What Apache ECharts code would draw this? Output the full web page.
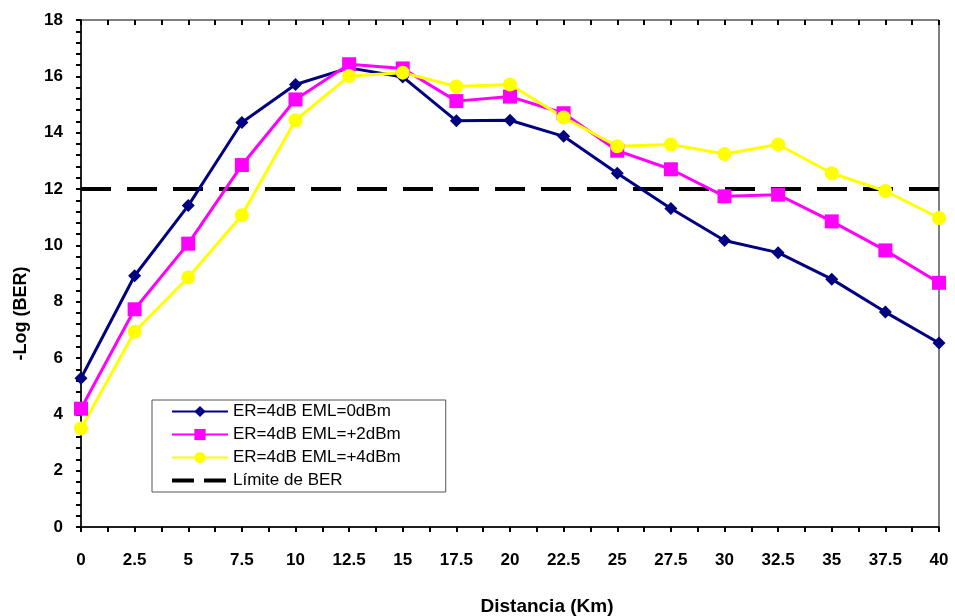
<!DOCTYPE html>
<html>
<head>
<meta charset="utf-8">
<script src="https://cdn.jsdelivr.net/npm/echarts@6/dist/echarts.min.js"></script>
<style>
  html, body { margin: 0; padding: 0; background: #fff; }
  #app { width: 955px; height: 616px; }
</style>
</head>
<body>
<div id="app"></div>
<script>
// distances (Km) and -log(BER)
const distances = [0, 2.5, 5, 7.5, 10, 12.5, 15, 17.5, 20, 22.5, 25, 27.5, 30, 32.5, 35, 37.5, 40];
const eml0 = [5.28, 8.92, 11.41, 14.36, 15.71, 16.3, 15.98, 14.42, 14.44, 13.87, 12.56, 11.31, 10.17, 9.74, 8.8, 7.63, 6.53];
const eml2 = [4.2, 7.73, 10.06, 12.85, 15.18, 16.43, 16.28, 15.12, 15.28, 14.69, 13.36, 12.7, 11.74, 11.8, 10.85, 9.82, 8.67];
const eml4 = [3.5, 6.93, 8.86, 11.07, 14.44, 16.01, 16.13, 15.64, 15.71, 14.54, 13.52, 13.58, 13.24, 13.58, 12.56, 11.93, 10.97];
const berLimit = 12;

const seriesNames = ["ER=4dB EML=0dBm", "ER=4dB EML=+2dBm", "ER=4dB EML=+4dBm", "Límite de BER"];
const FONT = "Liberation Sans";

const pairs = vals => distances.map((d, i) => [d, vals[i]]);

function baseXAxis(inside) {
  return {
    type: "value",
    min: 0,
    max: 40,
    interval: 2.5,
    axisLine: { show: !inside, onZero: false, lineStyle: { color: "#000", width: 1.5 } },
    axisTick: { show: true, inside: inside, length: 5, lineStyle: { color: "#000", width: 2 } },
    minorTick: { show: true, splitNumber: 2, length: 5, lineStyle: { color: "#000", width: 2 } },
    axisLabel: { show: !inside, margin: 25, color: "#000", fontFamily: FONT, fontWeight: "bold", fontSize: 17 },
    splitLine: { show: false }
  };
}

function baseYAxis(inside) {
  return {
    type: "value",
    min: 0,
    max: 18,
    interval: 2,
    axisLine: { show: !inside, lineStyle: { color: "#000", width: 1.5 } },
    axisTick: { show: true, inside: inside, length: 5, lineStyle: { color: "#000", width: 2 } },
    minorTick: { show: true, splitNumber: 5, length: 5, lineStyle: { color: "#000", width: 2 } },
    axisLabel: { show: !inside, margin: 18, color: "#000", fontFamily: FONT, fontWeight: "bold", fontSize: 17 },
    splitLine: { show: false }
  };
}

const xMain = Object.assign(baseXAxis(false), {
  name: "Distancia (Km)",
  nameLocation: "middle",
  nameGap: 70,
  nameMoveOverlap: false,
  nameTextStyle: { color: "#000", fontFamily: FONT, fontWeight: "bold", fontSize: 19, padding: [0, 0, 0, 74] }
});
const yMain = Object.assign(baseYAxis(false), {
  name: "-Log (BER)",
  nameLocation: "middle",
  nameGap: 51,
  nameMoveOverlap: false,
  nameTextStyle: { color: "#000", fontFamily: FONT, fontWeight: "bold", fontSize: 18, padding: [0, 80, 0, 0] }
});

function lineSeries(name, vals, color, symbol, size) {
  return {
    name,
    type: "line",
    data: pairs(vals),
    symbol,
    symbolSize: size,
    color,
    itemStyle: { color },
    lineStyle: { color, width: 3 },
    emphasis: { disabled: true },
    animation: false,
    z: 3
  };
}

const option = {
  backgroundColor: "#fff",
  grid: {
    left: 81,
    right: 16,
    top: 20,
    bottom: 89,
    outerBoundsMode: "none",
    show: true,
    borderColor: "#000",
    borderWidth: 1,
    backgroundColor: "#fff"
  },
  legend: {
    orient: "vertical",
    left: 152,
    top: 400,
    data: [
      seriesNames[0],
      seriesNames[1],
      seriesNames[2],
      { name: seriesNames[3], itemStyle: { opacity: 0 }, lineStyle: { type: [22, 10], width: 4 } }
    ],
    itemWidth: 56,
    itemHeight: 14,
    itemGap: 6,
    padding: [3, 45, 3, 18],
    borderColor: "#555",
    borderWidth: 1,
    backgroundColor: "#fff",
    textStyle: { color: "#000", fontFamily: FONT, fontSize: 17 }
  },
  xAxis: [xMain, baseXAxis(true)],
  yAxis: [yMain, baseYAxis(true)],
  series: [
    {
      name: seriesNames[3],
      type: "line",
      data: [[0, berLimit], [40, berLimit]],
      symbol: "none",
      color: "#000",
      lineStyle: { color: "#000", width: 4, type: [30, 16] },
      emphasis: { disabled: true },
      animation: false,
      z: 2
    },
    lineSeries(seriesNames[0], eml0, "#000080", "diamond", 13),
    lineSeries(seriesNames[1], eml2, "#FF00FF", "rect", 14),
    lineSeries(seriesNames[2], eml4, "#FFFF00", "circle", 14)
  ]
};

const chart = echarts.init(document.getElementById("app"));
chart.setOption(option);
</script>
</body>
</html>
